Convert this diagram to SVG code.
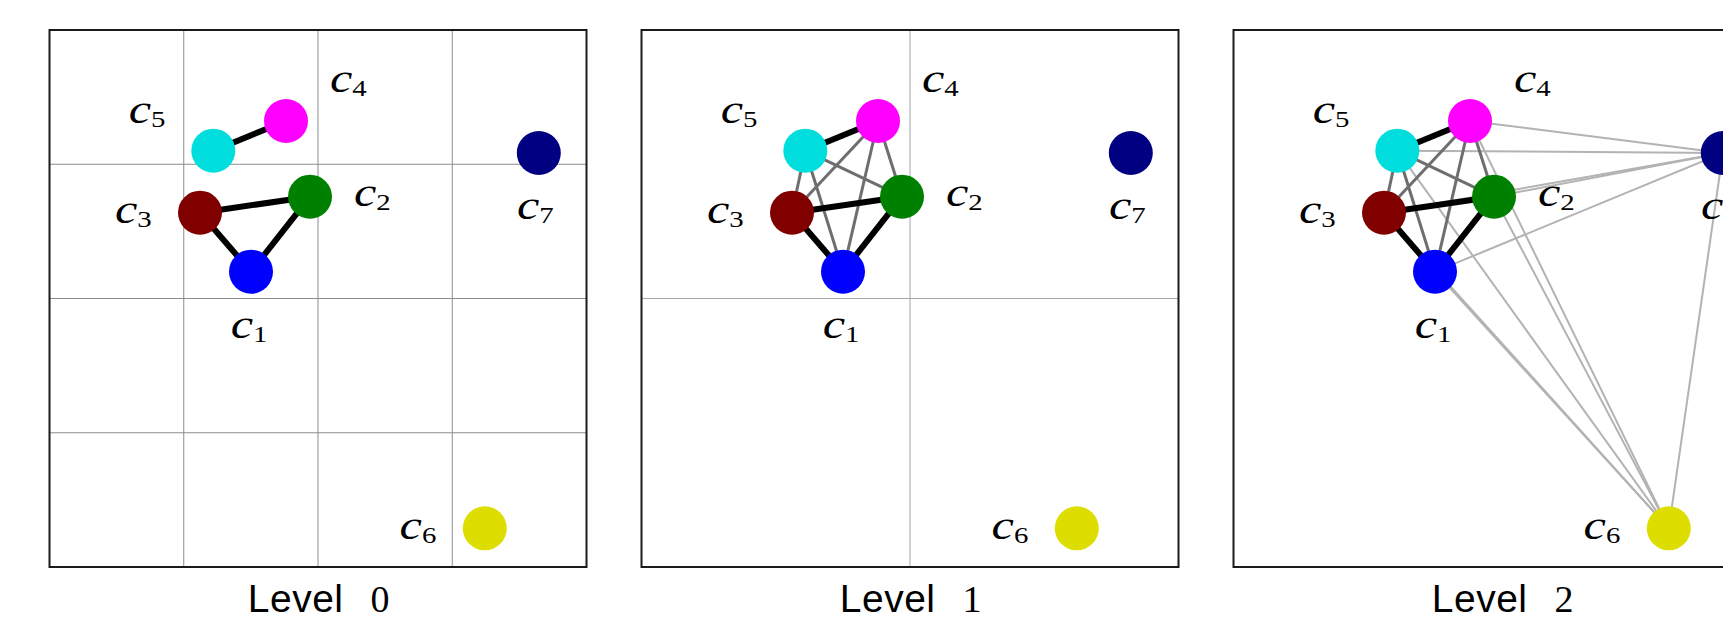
<svg xmlns="http://www.w3.org/2000/svg" width="1723" height="624" viewBox="0 0 1723 624">
  <style>
    .frame { fill: none; stroke: #1a1a1a; stroke-width: 2; }
    .grid { stroke: #8c8c8c; stroke-width: 1; fill: none; }
    .grid2 { stroke: #a6a6a6; stroke-width: 1; fill: none; }
    .e-strong { stroke: #000; stroke-width: 6; }
    .e-mid { stroke: #6e6e6e; stroke-width: 3; }
    .e-weak { stroke: #b3b3b3; stroke-width: 2; }
    .lbl { font-family: "Liberation Serif", "Times New Roman", serif; font-style: italic; font-size: 42px; fill: #000; }
    .sub { font-style: normal; font-size: 24px; }
    .cap { font-family: "Liberation Sans", Arial, sans-serif; font-size: 39px; letter-spacing: 0.5px; fill: #000; }
    .capnum { font-family: "Liberation Serif", "Times New Roman", serif; font-size: 38px; fill: #000; }
    .n1 { fill: #0000ff; } .n2 { fill: #008000; } .n3 { fill: #800000; }
    .n4 { fill: #ff00ff; } .n5 { fill: #00dddd; } .n6 { fill: #dddd00; } .n7 { fill: #000080; }
  </style>
  <defs>
    <!-- cluster points, shared by every level -->
    <circle id="pt" r="22"/>
  </defs>

  <!-- Level 0: 4x4 grid -->
  <g id="level0" transform="translate(49.5,30)">
    <g class="grid">
      <line x1="134.25" y1="0" x2="134.25" y2="537"/>
      <line x1="268.5" y1="0" x2="268.5" y2="537"/>
      <line x1="402.75" y1="0" x2="402.75" y2="537"/>
      <line x1="0" y1="134.25" x2="537" y2="134.25"/>
      <line x1="0" y1="268.5" x2="537" y2="268.5"/>
      <line x1="0" y1="402.75" x2="537" y2="402.75"/>
    </g>
    <rect class="frame" x="0" y="0" width="537" height="537"/>
    <g id="level0-edges">
      <line class="e-strong" x1="163.8" y1="120.7" x2="236.5" y2="91"/>
      <line class="e-strong" x1="150.5" y1="182.7" x2="260.5" y2="166.7"/>
      <line class="e-strong" x1="150.5" y1="182.7" x2="201.5" y2="241.7"/>
      <line class="e-strong" x1="201.5" y1="241.7" x2="260.5" y2="166.7"/>
    </g>
    <g id="l0-c1"><use href="#pt" class="n1" x="201.5" y="241.7"/><text class="lbl" transform="translate(181.2,307.5) scale(1.2,1)">c<tspan class="sub" dy="4">1</tspan></text></g>
    <g id="l0-c2"><use href="#pt" class="n2" x="260.5" y="166.7"/><text class="lbl" transform="translate(304.4,175.5) scale(1.2,1)">c<tspan class="sub" dy="4">2</tspan></text></g>
    <g id="l0-c3"><use href="#pt" class="n3" x="150.5" y="182.7"/><text class="lbl" transform="translate(65.4,192.5) scale(1.2,1)">c<tspan class="sub" dy="4">3</tspan></text></g>
    <g id="l0-c4"><use href="#pt" class="n4" x="236.5" y="91"/><text class="lbl" transform="translate(280.5,62) scale(1.2,1)">c<tspan class="sub" dy="4">4</tspan></text></g>
    <g id="l0-c5"><use href="#pt" class="n5" x="163.8" y="120.7"/><text class="lbl" transform="translate(79.2,92.5) scale(1.2,1)">c<tspan class="sub" dy="4">5</tspan></text></g>
    <g id="l0-c6"><use href="#pt" class="n6" x="435.3" y="498.3"/><text class="lbl" transform="translate(350.1,508.5) scale(1.2,1)">c<tspan class="sub" dy="4">6</tspan></text></g>
    <g id="l0-c7"><use href="#pt" class="n7" x="489.3" y="123"/><text class="lbl" transform="translate(467.4,188.5) scale(1.2,1)">c<tspan class="sub" dy="4">7</tspan></text></g>
    <text class="cap" x="198.3" y="581.5">Level</text>
    <text class="capnum" x="321" y="582">0</text>
  </g>

  <!-- Level 1: 2x2 grid -->
  <g id="level1" transform="translate(641.5,30)">
    <g class="grid2">
      <line x1="268.5" y1="0" x2="268.5" y2="537"/>
      <line x1="0" y1="268.5" x2="537" y2="268.5"/>
    </g>
    <rect class="frame" x="0" y="0" width="537" height="537"/>
    <g id="level1-edges">
      <line class="e-mid" x1="163.8" y1="120.7" x2="150.5" y2="182.7"/>
      <line class="e-mid" x1="163.8" y1="120.7" x2="201.5" y2="241.7"/>
      <line class="e-mid" x1="163.8" y1="120.7" x2="260.5" y2="166.7"/>
      <line class="e-mid" x1="236.5" y1="91" x2="150.5" y2="182.7"/>
      <line class="e-mid" x1="236.5" y1="91" x2="201.5" y2="241.7"/>
      <line class="e-mid" x1="236.5" y1="91" x2="260.5" y2="166.7"/>
      <line class="e-strong" x1="163.8" y1="120.7" x2="236.5" y2="91"/>
      <line class="e-strong" x1="150.5" y1="182.7" x2="260.5" y2="166.7"/>
      <line class="e-strong" x1="150.5" y1="182.7" x2="201.5" y2="241.7"/>
      <line class="e-strong" x1="201.5" y1="241.7" x2="260.5" y2="166.7"/>
    </g>
    <g id="l1-c1"><use href="#pt" class="n1" x="201.5" y="241.7"/><text class="lbl" transform="translate(181.2,307.5) scale(1.2,1)">c<tspan class="sub" dy="4">1</tspan></text></g>
    <g id="l1-c2"><use href="#pt" class="n2" x="260.5" y="166.7"/><text class="lbl" transform="translate(304.4,175.5) scale(1.2,1)">c<tspan class="sub" dy="4">2</tspan></text></g>
    <g id="l1-c3"><use href="#pt" class="n3" x="150.5" y="182.7"/><text class="lbl" transform="translate(65.4,192.5) scale(1.2,1)">c<tspan class="sub" dy="4">3</tspan></text></g>
    <g id="l1-c4"><use href="#pt" class="n4" x="236.5" y="91"/><text class="lbl" transform="translate(280.5,62) scale(1.2,1)">c<tspan class="sub" dy="4">4</tspan></text></g>
    <g id="l1-c5"><use href="#pt" class="n5" x="163.8" y="120.7"/><text class="lbl" transform="translate(79.2,92.5) scale(1.2,1)">c<tspan class="sub" dy="4">5</tspan></text></g>
    <g id="l1-c6"><use href="#pt" class="n6" x="435.3" y="498.3"/><text class="lbl" transform="translate(350.1,508.5) scale(1.2,1)">c<tspan class="sub" dy="4">6</tspan></text></g>
    <g id="l1-c7"><use href="#pt" class="n7" x="489.3" y="123"/><text class="lbl" transform="translate(467.4,188.5) scale(1.2,1)">c<tspan class="sub" dy="4">7</tspan></text></g>
    <text class="cap" x="198.3" y="581.5">Level</text>
    <text class="capnum" x="321" y="582">1</text>
  </g>

  <!-- Level 2: single cell, all points linked -->
  <g id="level2" transform="translate(1233.5,30)">
    <rect class="frame" x="0" y="0" width="537" height="537"/>
    <g id="level2-edges">
      <line class="e-weak" x1="489.3" y1="123" x2="201.5" y2="241.7"/>
      <line class="e-weak" x1="489.3" y1="123" x2="260.5" y2="166.7"/>
      <line class="e-weak" x1="489.3" y1="123" x2="150.5" y2="182.7"/>
      <line class="e-weak" x1="489.3" y1="123" x2="236.5" y2="91"/>
      <line class="e-weak" x1="489.3" y1="123" x2="163.8" y2="120.7"/>
      <line class="e-weak" x1="435.3" y1="498.3" x2="201.5" y2="241.7"/>
      <line class="e-weak" x1="435.3" y1="498.3" x2="260.5" y2="166.7"/>
      <line class="e-weak" x1="435.3" y1="498.3" x2="150.5" y2="182.7"/>
      <line class="e-weak" x1="435.3" y1="498.3" x2="236.5" y2="91"/>
      <line class="e-weak" x1="435.3" y1="498.3" x2="163.8" y2="120.7"/>
      <line class="e-weak" x1="435.3" y1="498.3" x2="489.3" y2="123"/>
      <line class="e-mid" x1="163.8" y1="120.7" x2="150.5" y2="182.7"/>
      <line class="e-mid" x1="163.8" y1="120.7" x2="201.5" y2="241.7"/>
      <line class="e-mid" x1="163.8" y1="120.7" x2="260.5" y2="166.7"/>
      <line class="e-mid" x1="236.5" y1="91" x2="150.5" y2="182.7"/>
      <line class="e-mid" x1="236.5" y1="91" x2="201.5" y2="241.7"/>
      <line class="e-mid" x1="236.5" y1="91" x2="260.5" y2="166.7"/>
      <line class="e-strong" x1="163.8" y1="120.7" x2="236.5" y2="91"/>
      <line class="e-strong" x1="150.5" y1="182.7" x2="260.5" y2="166.7"/>
      <line class="e-strong" x1="150.5" y1="182.7" x2="201.5" y2="241.7"/>
      <line class="e-strong" x1="201.5" y1="241.7" x2="260.5" y2="166.7"/>
    </g>
    <g id="l2-c1"><use href="#pt" class="n1" x="201.5" y="241.7"/><text class="lbl" transform="translate(181.2,307.5) scale(1.2,1)">c<tspan class="sub" dy="4">1</tspan></text></g>
    <g id="l2-c2"><use href="#pt" class="n2" x="260.5" y="166.7"/><text class="lbl" transform="translate(304.4,175.5) scale(1.2,1)">c<tspan class="sub" dy="4">2</tspan></text></g>
    <g id="l2-c3"><use href="#pt" class="n3" x="150.5" y="182.7"/><text class="lbl" transform="translate(65.4,192.5) scale(1.2,1)">c<tspan class="sub" dy="4">3</tspan></text></g>
    <g id="l2-c4"><use href="#pt" class="n4" x="236.5" y="91"/><text class="lbl" transform="translate(280.5,62) scale(1.2,1)">c<tspan class="sub" dy="4">4</tspan></text></g>
    <g id="l2-c5"><use href="#pt" class="n5" x="163.8" y="120.7"/><text class="lbl" transform="translate(79.2,92.5) scale(1.2,1)">c<tspan class="sub" dy="4">5</tspan></text></g>
    <g id="l2-c6"><use href="#pt" class="n6" x="435.3" y="498.3"/><text class="lbl" transform="translate(350.1,508.5) scale(1.2,1)">c<tspan class="sub" dy="4">6</tspan></text></g>
    <g id="l2-c7"><use href="#pt" class="n7" x="489.3" y="123"/><text class="lbl" transform="translate(467.4,188.5) scale(1.2,1)">c<tspan class="sub" dy="4">7</tspan></text></g>
    <text class="cap" x="198.3" y="581.5">Level</text>
    <text class="capnum" x="321" y="582">2</text>
  </g>
</svg>
